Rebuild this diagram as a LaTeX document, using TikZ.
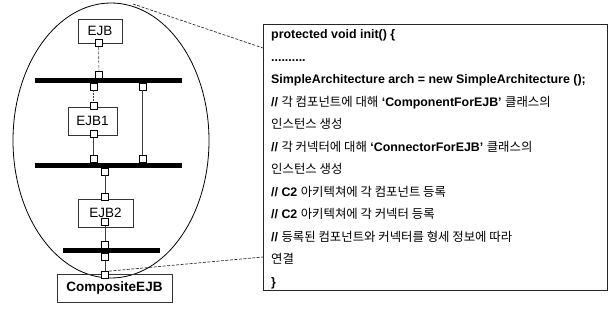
\documentclass[tikz,border=0pt]{standalone}
\usepackage{fontspec}
\setmainfont{Liberation Sans}
\newfontfamily\kr{Noto Sans CJK KR}
\usetikzlibrary{shapes.geometric}
\begin{document}
\begin{tikzpicture}[x=1pt,y=-1pt,
  box/.style={draw=black!80, line width=0.8pt, rectangle, inner sep=0pt, font=\fontsize{13.5}{15}\selectfont},
  bar/.style={fill=black, rectangle, inner sep=0pt, minimum height=5pt},
  port/.style={draw=black, line width=0.7pt, fill=white, rectangle, inner sep=0pt, minimum width=7pt, minimum height=7pt},
  wire/.style={draw=black!75, line width=0.6pt},
  lead/.style={draw=black!80, line width=0.7pt, dash pattern=on 3pt off 1.5pt},
  codeline/.style={anchor=base west, inner sep=0pt, font=\fontsize{12.4}{14}\selectfont}
]
\useasboundingbox (0,0) rectangle (609,321);
% ellipse
\node[ellipse, draw=black, line width=0.8pt, minimum width=196pt, minimum height=275pt, inner sep=0pt] (ell) at (111,140.5) {};
% boxes
\node[box, minimum width=44pt, minimum height=24pt] (ejb) at (100,31) {EJB};
\node[box, minimum width=49pt, minimum height=28pt] (ejb1) at (92.5,121) {EJB1};
\node[box, minimum width=55pt, minimum height=28pt] (ejb2) at (105.5,213) {EJB2};
\node[box, minimum width=115pt, minimum height=28pt, font=\bfseries\fontsize{13.5}{15}\selectfont] (comp) at (114.5,288) {CompositeEJB};
% bars
\node[bar, minimum width=147pt] (bar1) at (108.5,80.5) {};
\node[bar, minimum width=147pt] (bar2) at (108.5,165.5) {};
\node[bar, minimum width=97pt] (bar3) at (111.5,250.5) {};
% ports
\node[port] (pejb) at (98.5,43) {};
\node[port] (b1t) at (99,74.5) {};
\node[port] (b1a) at (93.5,86.5) {};
\node[port] (b1b) at (142.5,86.5) {};
\node[port] (e1t) at (93.5,106) {};
\node[port] (e1b) at (93.5,134) {};
\node[port] (b2a) at (93.5,159) {};
\node[port] (b2b) at (142.5,159) {};
\node[port] (b2c) at (105,171.5) {};
\node[port] (e2t) at (105,196.5) {};
\node[port] (e2b) at (105,222) {};
\node[port] (b3t) at (105,244.5) {};
\node[port] (b3b) at (105,257) {};
\node[port] (cp) at (105,275) {};
% wires
\draw[wire, dash pattern=on 3pt off 1.5pt] (pejb) -- (b1t);
\draw[wire, dash pattern=on 1.5pt off 1.5pt] (b1a) -- (e1t);
\draw[wire] (e1b) -- (b2a);
\draw[wire] (b1b) -- (b2b);
\draw[wire] (b2c) -- (e2t);
\draw[wire] (e2b) -- (b3t);
\draw[wire] (b3b) -- (cp);
% code box
\node[draw=black!85, line width=0.9pt, rectangle, minimum width=344pt, minimum height=266pt, inner sep=0pt] (code) at (435,157) {};
\coordinate (ctop) at (263,48);
\coordinate (cbot) at (263,257);
\coordinate (etop) at (133,4);
\draw[lead] (etop) -- (ctop);
\draw[lead] (cp.north east) -- (cbot);
% code text
\node[codeline] (l0) at (271,38.5) {\bfseries protected void init() \{};
\node[codeline] (l1) at (271,61) {\bfseries ..........};
\node[codeline] (l2) at (271,83.5) {\bfseries SimpleArchitecture arch = new SimpleArchitecture ();};
\node[codeline] (l3) at (271,106) {\bfseries // {\kr\mdseries 각 컴포넌트에 대해} ‘ComponentForEJB’ {\kr\mdseries 클래스의}};
\node[codeline] (l4) at (271,128.5) {\kr 인스턴스 생성};
\node[codeline] (l5) at (271,151) {\bfseries // {\kr\mdseries 각 커넥터에 대해} ‘ConnectorForEJB’ {\kr\mdseries 클래스의}};
\node[codeline] (l6) at (271,173.5) {\kr 인스턴스 생성};
\node[codeline] (l7) at (271,196) {\bfseries // C2 {\kr\mdseries 아키텍쳐에 각 컴포넌트 등록}};
\node[codeline] (l8) at (271,218.5) {\bfseries // C2 {\kr\mdseries 아키텍쳐에 각 커넥터 등록}};
\node[codeline] (l9) at (271,241) {\bfseries // {\kr\mdseries 등록된 컴포넌트와 커넥터를 형세 정보에 따라}};
\node[codeline] (l10) at (271,263.5) {\kr 연결};
\node[codeline] (l11) at (271,286) {\bfseries \}};
\end{tikzpicture}
\end{document}
